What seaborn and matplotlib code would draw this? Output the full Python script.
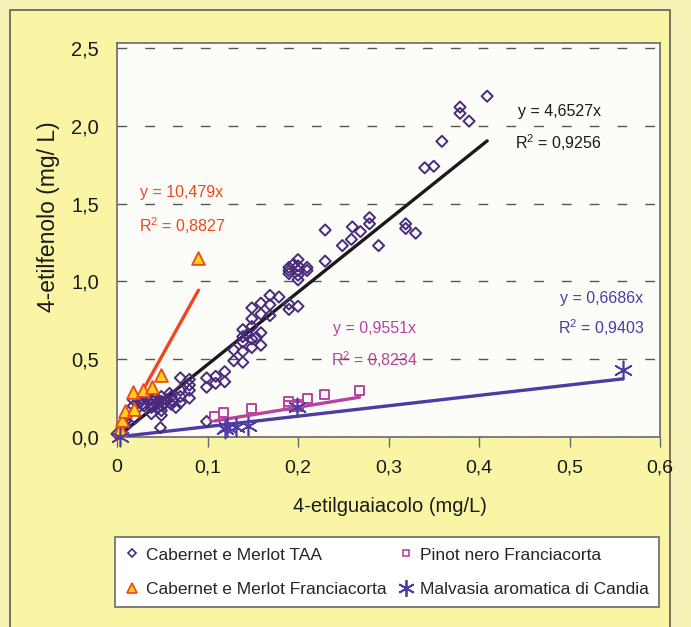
import matplotlib
matplotlib.use("Agg")
import matplotlib.pyplot as plt
from matplotlib.lines import Line2D
from matplotlib.patches import Rectangle
import seaborn as sns

sns.set_style("white")
plt.rcParams["font.family"] = ["Liberation Sans", "DejaVu Sans"]
plt.rcParams["mathtext.default"] = "regular"

# Cabernet e Merlot TAA (4-etilguaiacolo, 4-etilfenolo)
taa_x = [0.409, 0.379, 0.379, 0.389, 0.359, 0.340, 0.350,
         0.279, 0.279, 0.260, 0.269, 0.230, 0.259, 0.249, 0.289,
         0.319, 0.319, 0.330, 0.230,
         0.190, 0.200, 0.200, 0.200, 0.200, 0.200, 0.190, 0.190, 0.210, 0.210, 0.195,
         0.179, 0.169, 0.159, 0.149, 0.190, 0.200, 0.190,
         0.169, 0.169, 0.159, 0.149, 0.139, 0.149, 0.139, 0.139, 0.149, 0.159,
         0.159, 0.149, 0.139, 0.129, 0.129, 0.139, 0.119, 0.109, 0.099, 0.099,
         0.109, 0.119, 0.144, 0.154,
         0.070, 0.080, 0.080, 0.080, 0.080, 0.070, 0.070, 0.060, 0.060, 0.070,
         0.049, 0.049, 0.049, 0.049, 0.049, 0.038, 0.038, 0.038, 0.038,
         0.028, 0.028, 0.018, 0.018, 0.025, 0.033, 0.043, 0.045, 0.055, 0.058,
         0.062, 0.065, 0.030, 0.040, 0.052, 0.035, 0.045, 0.022,
         0.048, 0.020, 0.009, 0.000, 0.099, 0.010]
taa_y = [2.19, 2.12, 2.08, 2.03, 1.90, 1.73, 1.74,
         1.41, 1.37, 1.35, 1.32, 1.33, 1.27, 1.23, 1.23,
         1.37, 1.34, 1.31, 1.13,
         1.07, 1.14, 1.10, 1.07, 1.04, 1.01, 1.09, 1.05, 1.07, 1.09, 1.11,
         0.90, 0.91, 0.86, 0.83, 0.855, 0.84, 0.82,
         0.85, 0.78, 0.79, 0.76, 0.69, 0.71, 0.645, 0.61, 0.63, 0.67,
         0.59, 0.575, 0.55, 0.56, 0.49, 0.48, 0.42, 0.39, 0.38, 0.32,
         0.345, 0.355, 0.66, 0.64,
         0.38, 0.37, 0.334, 0.30, 0.25, 0.30, 0.26, 0.26, 0.21, 0.22,
         0.26, 0.23, 0.20, 0.17, 0.14, 0.24, 0.21, 0.19, 0.15,
         0.24, 0.21, 0.24, 0.20, 0.22, 0.26, 0.25, 0.19, 0.24, 0.28,
         0.23, 0.19, 0.20, 0.27, 0.21, 0.23, 0.22, 0.18,
         0.06, 0.12, 0.10, 0.02, 0.10, 0.07]

# Cabernet e Merlot Franciacorta
fra_x = [0.003, 0.005, 0.009, 0.019, 0.018, 0.029, 0.039, 0.049, 0.090]
fra_y = [0.05, 0.11, 0.17, 0.18, 0.29, 0.30, 0.32, 0.40, 1.15]

# Pinot nero Franciacorta
pin_x = [0.108, 0.118, 0.149, 0.189, 0.189, 0.200, 0.200, 0.210, 0.229, 0.268]
pin_y = [0.13, 0.155, 0.18, 0.23, 0.20, 0.21, 0.195, 0.25, 0.27, 0.30]

# Malvasia aromatica di Candia
mal_x = [0.003, 0.119, 0.122, 0.132, 0.145, 0.199, 0.559]
mal_y = [0.00, 0.05, 0.066, 0.066, 0.07, 0.19, 0.43]

slopes = {"taa": 4.6527, "fra": 10.479, "pin": 0.9551, "mal": 0.6686}
eq_text = {"taa": ("y = 4,6527x", "R$^2$ = 0,9256"),
           "fra": ("y = 10,479x", "R$^2$ = 0,8827"),
           "pin": ("y = 0,9551x", "R$^2$ = 0,8234"),
           "mal": ("y = 0,6686x", "R$^2$ = 0,9403")}

x_ticks = [0, 0.1, 0.2, 0.3, 0.4, 0.5, 0.6]
x_tick_labels = ["0", "0,1", "0,2", "0,3", "0,4", "0,5", "0,6"]
y_ticks = [0, 0.5, 1.0, 1.5, 2.0, 2.5]
y_tick_labels = ["0,0", "0,5", "1,0", "1,5", "2,0", "2,5"]

c_taa, c_fra, c_fra_fill = "#4a2a7c", "#f0461e", "#ffd21a"
c_pin, c_mal = "#b8449e", "#4c3ca4"

fig = plt.figure(figsize=(6.91, 6.27), dpi=100, facecolor="#f6f2b6")
fig.patches.append(Rectangle((10 / 691, -0.01), 660 / 691, 617 / 627 + 0.01,
                             transform=fig.transFigure, facecolor="#f9f5a5",
                             edgecolor="#5e5e58", lw=1.2, zorder=-5))
ax = fig.add_axes([117 / 691, 190 / 627, 543 / 691, 394 / 627])
ax.set_facecolor("#fcfcf8")

# trendlines over each series' range
series = {"taa": (taa_x, taa_y), "fra": (fra_x, fra_y),
          "pin": (pin_x, pin_y), "mal": (mal_x, mal_y)}
line_cols = {"taa": "#1a1a1a", "fra": c_fra, "pin": c_pin, "mal": c_mal}
for key in ["mal", "pin", "taa", "fra"]:
    xs = series[key][0]
    lx = [min(xs), max(xs)]
    sns.lineplot(x=lx, y=[slopes[key] * v for v in lx], color=line_cols[key],
                 lw=2.4, ax=ax, zorder=3)

sns.scatterplot(x=taa_x, y=taa_y, marker="D", s=32, facecolors="none",
                edgecolor=c_taa, linewidth=1.4, ax=ax, zorder=4, clip_on=False)
sns.scatterplot(x=pin_x, y=pin_y, marker="s", s=42, facecolors="none",
                edgecolor=c_pin, linewidth=1.4, ax=ax, zorder=4, clip_on=False)
sns.scatterplot(x=fra_x, y=fra_y, marker="^", s=85, color=c_fra_fill,
                edgecolor=c_fra, linewidth=1.3, ax=ax, zorder=5, clip_on=False)
sns.scatterplot(x=mal_x, y=mal_y, marker=(6, 2, 0), s=170, color=c_mal,
                linewidth=1.2, ax=ax, zorder=5, clip_on=False)

ax.set_xlim(0, 0.6)
ax.set_ylim(0, 2.532)
ax.set_xticks(x_ticks)
ax.set_xticklabels(x_tick_labels)
ax.set_yticks(y_ticks)
ax.set_yticklabels(y_tick_labels)
ax.tick_params(axis="x", length=7, width=1, color="#666666", labelsize=14,
               pad=9, labelcolor="#1a1a1a", direction="out", bottom=True)
ax.tick_params(axis="y", length=0, labelsize=14.5, pad=13, labelcolor="#1a1a1a")
ax.grid(axis="y", color="#555555", lw=1, ls=(0, (7, 13)))
ax.grid(axis="x", visible=False)
for sp in ax.spines.values():
    sp.set_color("#6a6a6a")
    sp.set_linewidth(1.2)
ax.set_xlabel("")
ax.set_ylabel("")

fig.text(390 / 691, 1 - 507 / 627, "4-etilguaiacolo (mg/L)", ha="center",
         va="center", fontsize=14.5, color="#1a1a1a")
fig.text(48 / 691, 1 - 217 / 627, "4-etilfenolo (mg/ L)", ha="center",
         va="center", rotation=90, fontsize=16.5, color="#1a1a1a")

# equations
eq_pos = {"fra": (0.0254, 1.57, 0.024, 1.36), "taa": (0.443, 2.09, 0.440, 1.89),
          "pin": (0.239, 0.70, 0.236, 0.50), "mal": (0.490, 0.89, 0.487, 0.705)}
eq_cols = {"taa": "#1a1a1a", "fra": c_fra, "pin": c_pin, "mal": c_mal}
for key, (x1, y1, x2, y2) in eq_pos.items():
    ax.text(x1, y1, eq_text[key][0], color=eq_cols[key], fontsize=11.5,
            ha="left", va="center", zorder=6)
    ax.text(x2, y2, eq_text[key][1], color=eq_cols[key], fontsize=11.5,
            ha="left", va="center", zorder=6)

handles = [
    Line2D([], [], ls="none", marker="D", ms=4.5, mfc="none", mec=c_taa, mew=1.2),
    Line2D([], [], ls="none", marker="^", ms=6.5, mfc=c_fra_fill, mec=c_fra, mew=1.2),
    Line2D([], [], ls="none", marker="s", ms=5, mfc="none", mec=c_pin, mew=1.2),
    Line2D([], [], ls="none", marker=(6, 2, 0), ms=12, mec=c_mal, mew=1.3),
]
labels = ["Cabernet e Merlot TAA", "Cabernet e Merlot Franciacorta",
          "Pinot nero Franciacorta", "Malvasia aromatica di Candia"]
leg = fig.legend(handles, labels, ncol=2, loc="upper left",
                 bbox_to_anchor=(115 / 691, 1 - 537 / 627),
                 fontsize=12.5, frameon=True, fancybox=False,
                 edgecolor="#6a6a6a", facecolor="white", framealpha=1,
                 handlelength=0.8, handletextpad=0.4, labelspacing=1.1,
                 columnspacing=0.7, borderaxespad=0, borderpad=0.6)
leg.get_frame().set_linewidth(1.2)

fig.savefig("out.png", dpi=100, facecolor=fig.get_facecolor())
